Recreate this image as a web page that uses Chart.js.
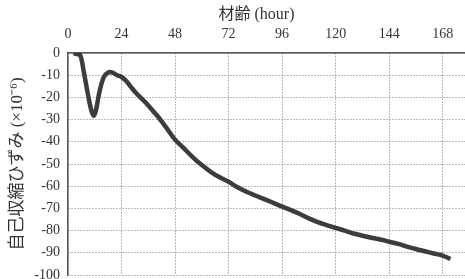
<!DOCTYPE html>
<html>
<head>
<meta charset="utf-8">
<script src="https://cdn.jsdelivr.net/npm/chart.js@4"></script>
<style>
html,body{margin:0;padding:0;background:#fff;}
#wrap{width:465px;height:279px;}
</style>
</head>
<body>
<div id="wrap"><canvas id="c" width="465" height="279"></canvas></div>
<script>
const hours = [2.5,4,5.5,7,9,10.5,11.5,12.5,14,16,18,20,22,24,26,28,30,32,35,38,41,44,48,52,56,60,64,68,72,76,80,84,88,92,96,100,104,108,112,116,120,124,128,132,136,140,144,148,152,156,160,164,168,171.5];
const strain = [0,-0.5,-1,-8,-19,-26,-28.3,-26,-18,-11,-8.8,-8.8,-10,-10.8,-12.5,-15,-17.5,-19.5,-22.5,-26,-29.5,-33.5,-39,-43,-47,-50.5,-53.5,-56,-58,-60.5,-62.5,-64.2,-65.8,-67.5,-69.2,-70.8,-72.5,-74.5,-76.2,-77.5,-78.8,-80,-81.3,-82.3,-83.2,-84,-85,-86,-87.2,-88.3,-89.3,-90.3,-91.3,-92.8];
const xTicks = [0,24,48,72,96,120,144,168];
const yTicks = [0,-10,-20,-30,-40,-50,-60,-70,-80,-90,-100];
const xTitle = '材齢 (hour)';
const yTitle = '自己収縮ひずみ (×10⁻⁶)';

const serif = '"Liberation Serif", "Noto Sans CJK JP", serif';
const gridCol = '#777';

new Chart(document.getElementById('c'), {
  type: 'line',
  data: {
    datasets: [{
      data: hours.map((h,i)=>({x:h,y:strain[i]})),
      borderColor: '#3c3c3c',
      borderWidth: 4.5,
      pointRadius: 0,
      tension: 0.35,
      fill: false
    }]
  },
  options: {
    animation: false,
    responsive: false,
    maintainAspectRatio: false,
    layout: { padding: { left: 0, right: 0, top: 0, bottom: 4 } },
    plugins: { legend: { display: false }, tooltip: { enabled: false } },
    scales: {
      x: {
        type: 'linear',
        position: 'top',
        min: 0, max: 178,
        afterBuildTicks: (axis) => { axis.ticks = xTicks.map(v=>({value:v})); },
        afterFit: (axis) => { axis.height = 53; axis.paddingLeft = 0; axis.paddingRight = 0; },
        ticks: { font: { family: serif, size: 14 }, color: '#333', padding: 10, maxRotation: 0, autoSkip: false },
        grid: { color: gridCol, lineWidth: 1, drawTicks: false },
        border: { display: true, color: '#555', width: 1.5, dash: [1, 2] },
        title: { display: true, text: xTitle + '     ', font: { family: serif, size: 16 }, color: '#333', padding: { top: 5, bottom: 0 } }
      },
      y: {
        type: 'linear',
        min: -100, max: 0,
        afterBuildTicks: (axis) => { axis.ticks = yTicks.map(v=>({value:v})); },
        afterFit: (axis) => { axis.width = 68; axis.paddingTop = 0; axis.paddingBottom = 0; },
        ticks: { font: { family: serif, size: 14 }, color: '#333', padding: 8, autoSkip: false },
        grid: { color: gridCol, lineWidth: 1, drawTicks: false },
        border: { display: true, color: '#555', width: 1.5, dash: [1, 2] },
        title: { display: true, text: yTitle, font: { family: serif, size: 17 }, color: '#333', padding: { top: 7, bottom: 0 } }
      }
    }
  }
});
</script>
</body>
</html>
